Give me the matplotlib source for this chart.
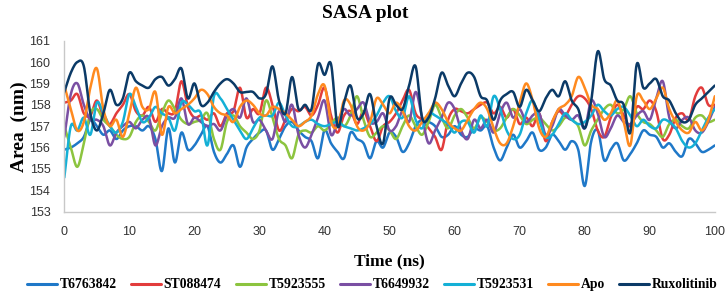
import numpy as np
import matplotlib
matplotlib.use("Agg")
import matplotlib.pyplot as plt

time_ns = list(range(0, 101))

t6763842 = [155.9, 156.0, 156.2, 156.5, 157.3, 157.0, 156.6, 156.8, 156.4, 156.8,
            157.0, 157.0, 156.8, 157.0, 156.4, 154.9, 156.9, 155.3, 156.7, 155.9,
            156.1, 156.6, 157.0, 155.8, 155.3, 155.7, 156.1, 155.1, 156.0, 156.4,
            156.7, 156.8, 155.9, 156.4, 157.0, 157.2, 156.8, 156.5, 156.3, 155.5,
            156.8, 156.2, 155.8, 155.5, 156.7, 156.4, 156.2, 155.5, 156.3, 156.0,
            156.7, 156.5, 155.8, 156.2, 157.0, 157.3, 157.2, 157.0, 156.5, 156.6,
            157.0, 156.6, 156.5, 156.9, 156.8, 157.0, 156.0, 155.4, 156.0, 156.6,
            156.0, 156.3, 156.7, 155.9, 156.0, 156.6, 156.3, 155.9, 156.3, 155.9,
            154.2, 156.3, 156.8, 155.4, 155.9, 156.2, 155.4, 155.7, 156.2, 156.8,
            156.6, 156.5, 156.0, 156.2, 155.8, 155.6, 156.4, 156.2, 155.8, 155.9,
            156.1]

st088474 = [158.1, 158.2, 158.5, 157.6, 157.5, 158.2, 157.4, 157.1, 157.6, 158.0,
            158.5, 157.7, 157.5, 157.9, 157.2, 157.8, 157.6, 157.7, 159.1, 157.9,
            157.4, 157.5, 157.3, 157.6, 157.0, 157.6, 157.7, 158.8, 157.4, 157.8,
            157.6, 158.8, 158.0, 156.8, 157.3, 157.8, 157.7, 157.9, 157.5, 158.0,
            158.8, 157.5, 156.7, 157.5, 157.7, 157.1, 157.7, 157.0, 156.3, 157.0,
            157.2, 157.6, 158.2, 158.7, 157.6, 157.3, 156.9, 156.5, 155.9, 157.3,
            157.8, 157.7, 157.6, 157.8, 158.0, 158.1, 157.6, 157.9, 157.4, 157.8,
            157.1, 157.4, 157.0, 157.6, 156.3, 157.2, 157.7, 157.5, 158.0, 158.4,
            158.3, 157.8, 156.8, 156.5, 157.4, 158.0, 157.5, 157.0, 157.9, 157.8,
            158.2, 157.7, 156.4, 156.6, 157.4, 157.6, 157.3, 158.4, 158.8, 158.0,
            158.0]

t5923555 = [157.0, 156.0, 155.1, 156.2, 157.6, 157.8, 157.3, 157.0, 156.6, 156.4,
            156.5, 157.2, 157.5, 157.2, 156.8, 157.6, 158.2, 157.8, 157.3, 157.1,
            157.2, 157.3, 157.6, 156.4, 155.9, 157.2, 157.5, 157.0, 156.7, 156.4,
            156.8, 158.2, 157.4, 156.4, 156.1, 155.5, 156.6, 156.8, 156.7, 157.0,
            156.8, 157.1, 157.4, 157.0, 157.5, 158.4, 157.3, 156.5, 156.7, 157.0,
            156.8, 156.4, 157.0, 157.5, 157.0, 156.6, 157.2, 158.0, 157.4, 156.9,
            157.5, 157.8, 157.4, 156.9, 157.4, 157.2, 156.8, 156.9, 157.4, 157.8,
            157.5, 157.1, 157.3, 157.4, 157.1, 156.8, 157.0, 157.4, 157.3, 157.0,
            156.1, 156.8, 157.3, 157.8, 158.0, 157.6, 157.8, 158.4, 157.6, 157.2,
            157.1, 156.8, 156.5, 157.1, 157.3, 157.0, 156.9, 157.4, 157.5, 157.2,
            157.3]

t6649932 = [156.5, 158.5, 159.0, 158.0, 157.3, 157.3, 157.0, 156.1, 156.7, 157.0,
            157.2, 156.9, 157.3, 157.4, 156.1, 157.0, 157.4, 157.4, 158.3, 157.1,
            157.4, 157.2, 157.0, 157.1, 156.8, 157.5, 157.8, 157.4, 158.3, 157.2,
            157.3, 156.8, 156.4, 157.7, 157.2, 158.0, 156.6, 156.0, 156.6, 157.4,
            158.2, 156.6, 157.2, 157.8, 157.5, 157.8, 158.1, 157.2, 157.2, 157.6,
            156.8, 157.0, 157.7, 157.2, 158.6, 157.4, 156.2, 156.8, 157.4, 158.1,
            157.8, 156.8, 156.4, 157.3, 156.9, 157.3, 156.7, 157.6, 158.1, 157.4,
            157.8, 157.2, 157.5, 157.6, 156.6, 157.0, 157.8, 157.5, 157.3, 157.5,
            156.9, 158.2, 157.6, 156.5, 156.9, 157.5, 157.2, 157.1, 157.5, 157.7,
            157.3, 158.3, 159.1, 157.4, 156.9, 157.3, 157.4, 156.8, 156.7, 157.2,
            157.9]

t5923531 = [154.6, 157.0, 156.8, 157.4, 156.6, 158.1, 157.6, 157.0, 156.7, 157.2,
            158.5, 157.9, 157.2, 157.4, 157.9, 157.6, 157.4, 156.8, 158.1, 158.0,
            157.7, 157.6, 156.1, 158.4, 158.3, 157.8, 157.3, 156.8, 156.4, 156.9,
            157.4, 157.5, 157.5, 158.1, 157.5, 157.0, 157.0, 157.2, 157.3, 157.1,
            157.0, 157.1, 157.2, 157.0, 156.9, 156.8, 156.9, 157.1, 157.5, 158.1,
            158.4, 157.7, 157.4, 158.4, 157.3, 156.9, 157.6, 157.5, 157.3, 157.1,
            156.7, 157.2, 157.2, 156.7, 157.5, 157.0, 158.4, 157.8, 156.8, 156.4,
            156.6, 157.6, 158.2, 157.3, 156.5, 156.6, 157.1, 157.6, 157.3, 157.1,
            157.2, 157.5, 158.0, 157.7, 157.5, 157.8, 157.9, 157.5, 157.0, 157.3,
            157.0, 156.9, 157.3, 157.2, 156.9, 156.3, 156.0, 156.2, 156.8, 157.4,
            157.8]

apo = [158.9, 157.8, 156.8, 157.2, 158.8, 159.7, 157.8, 157.0, 157.3, 156.5,
       157.6, 158.8, 157.9, 157.8, 158.6, 156.6, 157.9, 157.6, 157.8, 158.0,
       158.3, 158.7, 158.5, 157.9, 157.6, 157.5, 157.2, 157.9, 158.2, 158.0,
       157.6, 157.5, 157.9, 157.8, 157.6, 157.3, 157.0, 157.2, 157.5, 158.5,
       158.9, 157.2, 157.0, 158.2, 158.0, 157.0, 156.8, 157.2, 158.3, 158.0,
       157.6, 158.1, 157.7, 157.0, 156.8, 157.2, 157.6, 158.1, 157.8, 157.2,
       156.9, 156.8, 157.3, 157.8, 158.1, 157.8, 156.9, 156.2, 156.2, 157.0,
       158.1, 159.0, 158.2, 156.9, 156.5, 157.2, 157.8, 158.0, 158.4, 159.3,
       158.8, 158.0, 157.8, 157.3, 157.6, 158.2, 157.2, 156.1, 158.4, 158.2,
       157.8, 158.3, 158.8, 157.8, 157.2, 156.8, 156.7, 157.2, 156.8, 157.3,
       158.4]

ruxolitinib = [158.6, 159.5, 160.0, 159.8, 157.6, 156.8, 157.6, 158.7, 158.0, 158.3,
               159.5, 159.1, 158.9, 158.8, 159.2, 159.3, 158.9, 159.2, 159.7, 158.3,
               159.0, 158.0, 158.1, 158.6, 159.0, 159.2, 159.0, 158.6, 158.6, 158.6,
               158.3, 158.5, 159.8, 158.2, 157.6, 159.3, 157.8, 158.0, 157.8, 159.9,
               159.4, 159.9, 157.0, 158.1, 158.9, 157.4, 157.6, 158.5, 157.0, 156.2,
               158.3, 158.0, 157.8, 158.9, 159.8, 157.4, 157.4, 158.3, 159.5, 158.9,
               158.4, 159.0, 159.5, 159.3, 158.4, 158.2, 157.3, 158.2, 158.5, 158.6,
               157.9, 158.7, 158.2, 157.7, 158.3, 158.7, 158.4, 159.1, 158.2, 157.8,
               156.9, 158.2, 160.5, 159.2, 158.9, 158.2, 158.0, 156.7, 159.9, 158.8,
               159.0, 159.2, 158.4, 158.2, 157.6, 157.2, 157.3, 158.0, 158.3, 158.6,
               158.9]

series_names = ["T6763842", "ST088474", "T5923555", "T6649932", "T5923531", "Apo", "Ruxolitinib"]
series_values = [t6763842, st088474, t5923555, t6649932, t5923531, apo, ruxolitinib]
colors = ["#1f78c8", "#e23c3c", "#8cc43f", "#7a4fa3", "#14b0d6", "#ff8a1f", "#0b3a67"]

y_ticks = [153, 154, 155, 156, 157, 158, 159, 160, 161]
x_ticks = [0, 10, 20, 30, 40, 50, 60, 70, 80, 90, 100]


def catmull_rom(x, y, n=12):
    x = np.asarray(x, float)
    y = np.asarray(y, float)
    xp = np.concatenate([[2 * x[0] - x[1]], x, [2 * x[-1] - x[-2]]])
    yp = np.concatenate([[2 * y[0] - y[1]], y, [2 * y[-1] - y[-2]]])
    xs, ys = [], []
    s = np.linspace(0, 1, n, endpoint=False)
    for i in range(1, len(xp) - 2):
        for arr, out in ((xp, xs), (yp, ys)):
            p0, p1, p2, p3 = arr[i - 1], arr[i], arr[i + 1], arr[i + 2]
            out.append(0.5 * ((2 * p1) + (-p0 + p2) * s
                              + (2 * p0 - 5 * p1 + 4 * p2 - p3) * s ** 2
                              + (-p0 + 3 * p1 - 3 * p2 + p3) * s ** 3))
    xs.append([x[-1]])
    ys.append([y[-1]])
    return np.concatenate(xs), np.concatenate(ys)


fig = plt.figure(figsize=(7.26, 2.99), dpi=100)
ax = fig.add_axes([0.0886, 0.292, 0.896, 0.572])

for name, vals, c in zip(series_names, series_values, colors):
    sx, sy = catmull_rom(time_ns, vals)
    ax.plot(sx, sy, color=c, lw=1.8, label=name, solid_capstyle="round")

ax.set_xlim(0, 100)
ax.set_ylim(153, 161)
ax.set_xticks(x_ticks)
ax.set_yticks(y_ticks)
ax.tick_params(length=0, labelsize=9, colors="#333333", pad=10)
for lab in ax.get_xticklabels() + ax.get_yticklabels():
    lab.set_family(["Liberation Sans", "DejaVu Sans"])
for sp in ["top", "right"]:
    ax.spines[sp].set_visible(False)
for sp in ["left", "bottom"]:
    ax.spines[sp].set_color("#c8c8c8")
    ax.spines[sp].set_linewidth(1.0)

serif = ["Liberation Serif", "DejaVu Serif"]
fig.text(0.503, 0.955, "SASA plot", ha="center", va="center", fontsize=14,
         fontweight="bold", family=serif)
fig.text(0.027, 0.575, "Area  (nm)", ha="center", va="center", rotation=90,
         fontsize=14, fontweight="bold", family=serif)
fig.text(0.537, 0.125, "Time (ns)", ha="center", va="center", fontsize=12.5,
         fontweight="bold", family=serif)

leg = fig.legend(loc="center", bbox_to_anchor=(0.513, 0.047), ncol=7, frameon=False,
                 handlelength=2.2, handletextpad=0.2, columnspacing=1.05,
                 prop={"family": serif, "weight": "bold", "size": 9.8})
for line in leg.get_lines():
    line.set_linewidth(2.2)

fig.savefig("out.png", dpi=100)
